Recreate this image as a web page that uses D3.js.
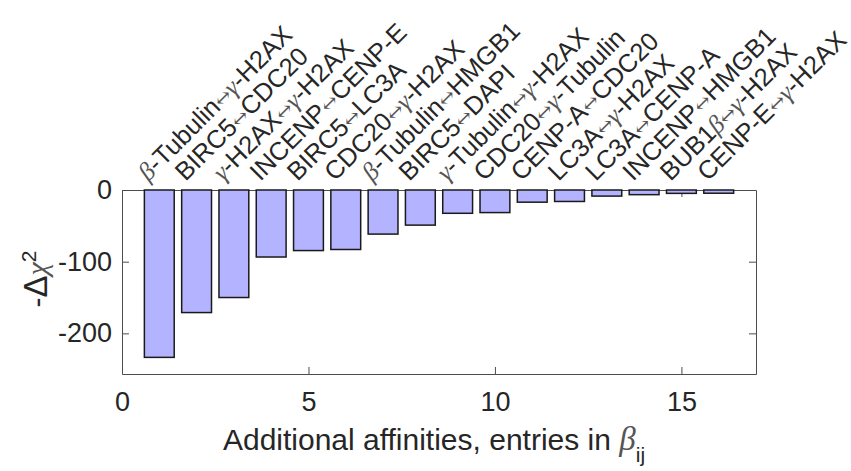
<!DOCTYPE html>
<meta charset="utf-8">
<script src="https://d3js.org/d3.v7.min.js"></script>
<style>
  body { margin: 0; background: #fff; }
  text { font-family: "Liberation Sans", Arial, sans-serif; fill: #262626; }
  .greek { font-family: "Liberation Serif", "Times New Roman", serif; font-style: italic; }
  .arrow { font-family: "DejaVu Serif", serif; }
</style>
<div id="chart"></div>
<script>

// pairs of markers (added affinity entries), ordered by gain
var pairLabels = [
  "β-Tubulin↔γ-H2AX",
  "BIRC5↔CDC20",
  "γ-H2AX↔γ-H2AX",
  "INCENP↔CENP-E",
  "BIRC5↔LC3A",
  "CDC20↔γ-H2AX",
  "β-Tubulin↔HMGB1",
  "BIRC5↔DAPI",
  "γ-Tubulin↔γ-H2AX",
  "CDC20↔γ-Tubulin",
  "CENP-A↔CDC20",
  "LC3A↔γ-H2AX",
  "LC3A↔CENP-A",
  "INCENP↔HMGB1",
  "BUB1β↔γ-H2AX",
  "CENP-E↔γ-H2AX"
];

// -delta chi^2 for each added entry
var deltaChi2 = [-233.5, -171, -150, -93.5, -84.5, -83, -61.5, -49,
                 -32.5, -31.5, -17, -16, -8.5, -6.5, -4.7, -4.5];

var xTicks = [0, 5, 10, 15];
var yTicks = [0, -100, -200];

var W = 851, H = 471;
var plot = {left: 122, right: 756, top: 190, bottom: 374};

var svg = d3.select("#chart")
  .append("svg")
    .attr("width", W)
    .attr("height", H);

var x = d3.scaleLinear()
  .domain([0, 17])
  .range([plot.left, plot.right]);

var y = d3.scaleLinear()
  .domain([-256.7, 0])
  .range([plot.bottom, plot.top]);

var barW = x(0.8) - x(0);

// axes (matlab style box, ticks inside)
var axisColor = "#4d4d4d";
function styleAxis(g) {
  g.select(".domain").attr("stroke", axisColor);
  g.selectAll(".tick line").attr("stroke", axisColor);
  g.selectAll("text").attr("fill", "#262626").style("font-size", "27px")
    .style("font-family", "'Liberation Sans', Arial, sans-serif");
}
var fmt = function(d) { return String(d); };

svg.append("g")
  .attr("transform", "translate(0," + plot.bottom + ")")
  .call(d3.axisBottom(x).tickValues(xTicks).tickFormat(fmt).tickSizeInner(-7).tickSizeOuter(0).tickPadding(18))
  .call(styleAxis);

svg.append("g")
  .attr("transform", "translate(0," + plot.top + ")")
  .call(d3.axisTop(x).tickValues(xTicks).tickSizeInner(-7).tickSizeOuter(0).tickFormat(""))
  .call(styleAxis);

svg.append("g")
  .attr("transform", "translate(" + plot.left + ",0)")
  .call(d3.axisLeft(y).tickValues(yTicks).tickFormat(fmt).tickSizeInner(-7).tickSizeOuter(0).tickPadding(10))
  .call(styleAxis);

svg.append("g")
  .attr("transform", "translate(" + plot.right + ",0)")
  .call(d3.axisRight(y).tickValues(yTicks).tickSizeInner(-7).tickSizeOuter(0).tickFormat(""))
  .call(styleAxis);

// bars
svg.selectAll("rect.bar")
  .data(deltaChi2)
  .enter()
  .append("rect")
    .attr("class", "bar")
    .attr("x", function(d, i) { return x(i + 1) - barW / 2; })
    .attr("y", y(0))
    .attr("width", barW)
    .attr("height", function(d) { return y(d) - y(0); })
    .attr("fill", "#b3b3ff")
    .attr("stroke", "#1a1a1a")
    .attr("stroke-width", 1.5);

// rotated pair labels, greek letters and arrows in tex serif
function addRuns(textSel, str) {
  var parts = str.split(/([βγ↔])/);
  parts.forEach(function(p) {
    if (!p) return;
    var t = textSel.append("tspan").text(p);
    if (p === "↔") t.attr("class", "arrow").attr("fill", "#555").style("font-size", "20px");
    else if (p === "β" || p === "γ") t.attr("class", "greek").attr("fill", "#555");
  });
}

svg.selectAll("text.pair")
  .data(pairLabels)
  .enter()
  .append("text")
    .attr("class", "pair")
    .attr("transform", function(d, i) {
      return "translate(" + (x(i + 1) - 11) + "," + 182 + ") rotate(-45)";
    })
    .style("font-size", "25.5px")
    .each(function(d) { addRuns(d3.select(this), d); });

// y label: -Δχ²
var yl = svg.append("text")
  .attr("transform", "translate(47,279) rotate(-90)")
  .attr("text-anchor", "middle")
  .style("font-size", "30px");
yl.append("tspan").text("-");
yl.append("tspan").style("font-size", "33px").text("Δ");
yl.append("tspan").attr("class", "greek").attr("fill", "#555").text("χ");
yl.append("tspan").attr("baseline-shift", "super").style("font-size", "21px").text("2");

// x label
var xl = svg.append("text")
  .attr("x", (plot.left + plot.right) / 2 - 5)
  .attr("y", 450)
  .attr("text-anchor", "middle")
  .style("font-size", "30px");
xl.append("tspan").text("Additional affinities, entries in ");
xl.append("tspan").attr("class", "greek").attr("fill", "#555").style("font-size", "33px").text("β");
xl.append("tspan").attr("baseline-shift", "sub").style("font-size", "21px").text("ij");

</script>
